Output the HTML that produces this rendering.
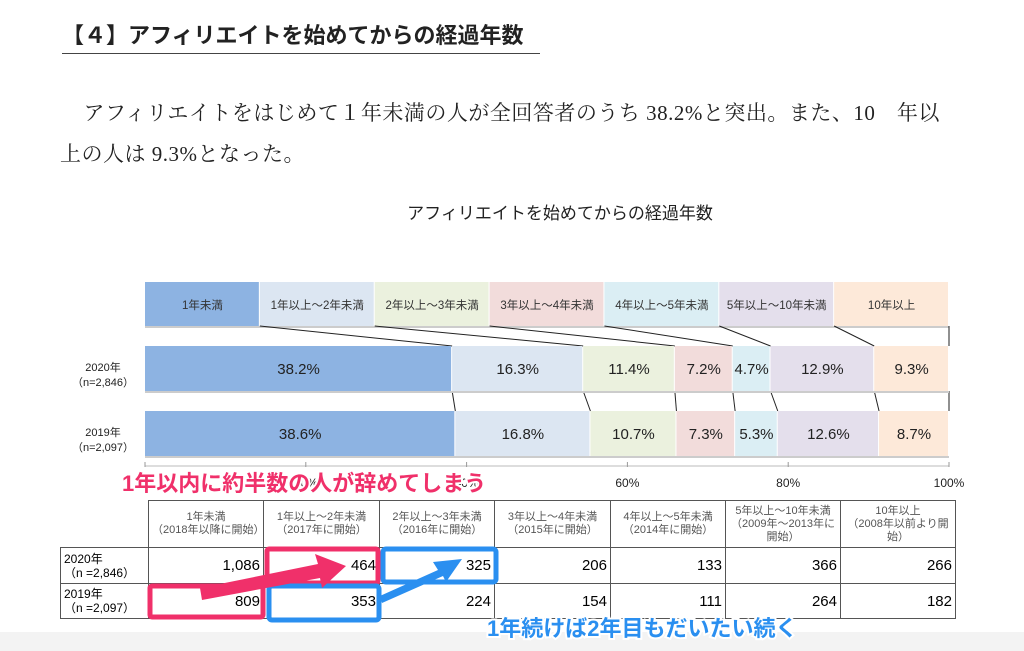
<!DOCTYPE html>
<html><head><meta charset="utf-8">
<style>
body{margin:0;width:1024px;height:651px;overflow:hidden;background:#fff;position:relative;font-family:"Liberation Sans","Noto Sans CJK JP",sans-serif;}
.abs{position:absolute;}
#h1{left:62px;top:18px;font-size:22px;font-weight:bold;color:#222;border-bottom:1.5px solid #444;padding-bottom:3px;width:478px;font-family:"Liberation Serif","Noto Sans CJK JP",sans-serif;}
.para{left:62px;font-size:21px;color:#222;font-family:"Liberation Serif","Noto Serif CJK SC",serif;letter-spacing:0.5px;white-space:nowrap;}
#ctitle{left:0;width:1120px;text-align:center;top:199px;font-size:17px;color:#222;}
table{border-collapse:collapse;position:absolute;left:60px;top:500px;font-size:12px;table-layout:fixed;width:895px;}
td{border:1px solid #555;padding:0 3px;overflow:hidden;}
.note{font-weight:bold;font-size:22px;white-space:nowrap;letter-spacing:0px;}
</style></head><body>
<div id="h1" class="abs">【４】アフィリエイトを始めてからの経過年数</div>
<div class="abs para" style="top:97px;">　アフィリエイトをはじめて１年未満の人が全回答者のうち 38.2%と突出。また、10　年以</div>
<div class="abs para" style="top:138px;left:60px">上の人は 9.3%となった。</div>
<div id="ctitle" class="abs">アフィリエイトを始めてからの経過年数</div>
<svg class="abs" style="left:0;top:0" width="1024" height="500" id="chart"></svg>
<table>
<colgroup><col style="width:88px"><col style="width:115px"><col style="width:116px"><col style="width:115px"><col style="width:116px"><col style="width:115px"><col style="width:115px"><col style="width:115px"></colgroup>
<tr style="height:47px;color:#555;font-size:11px;text-align:center;line-height:13px">
<td style="border-top:none;border-left:none"></td>
<td>1年未満<br>（2018年以降に開始）</td>
<td>1年以上～2年未満<br>（2017年に開始）</td>
<td>2年以上～3年未満<br>（2016年に開始）</td>
<td>3年以上～4年未満<br>（2015年に開始）</td>
<td>4年以上～5年未満<br>（2014年に開始）</td>
<td>5年以上～10年未満<br>（2009年～2013年に<br>開始）</td>
<td>10年以上<br>（2008年以前より開<br>始）</td></tr>
<tr style="height:36px;font-size:15px;text-align:right"><td style="text-align:left;font-size:12px;line-height:14px">2020年<br>（n =2,846）</td><td>1,086</td><td>464</td><td>325</td><td>206</td><td>133</td><td>366</td><td>266</td></tr>
<tr style="height:35px;font-size:15px;text-align:right"><td style="text-align:left;font-size:12px;line-height:14px">2019年<br>（n =2,097）</td><td>809</td><td>353</td><td>224</td><td>154</td><td>111</td><td>264</td><td>182</td></tr>
</table>
<div class="abs" style="left:0;top:632px;width:1024px;height:19px;background:#f3f3f3"></div>
<svg class="abs" style="left:0;top:0" width="1024" height="651">
<rect x="150" y="586" width="113" height="31" fill="none" stroke="#f0306a" stroke-width="5" rx="2"/>
<rect x="267" y="549" width="111" height="34" fill="none" stroke="#f0306a" stroke-width="5" rx="2"/>
<rect x="383" y="549" width="113" height="33" fill="none" stroke="#2a8ff0" stroke-width="5" rx="3"/>
<rect x="269" y="586" width="110" height="34" fill="none" stroke="#2a8ff0" stroke-width="5" rx="3"/>
<polygon points="200,588 318,564 315,554 346,566 322,588 320,578 202,600" fill="#f0306a"/>
<polygon points="380,596 438,570 433,562 462,559 446,582 443,576 382,603" fill="#2a8ff0"/>
<text x="122" y="491" class="note" fill="#f0306a" stroke="#fff" stroke-width="4" paint-order="stroke" font-family="Liberation Sans, Noto Sans CJK JP, sans-serif" font-weight="bold" font-size="22">1年以内に約半数の人が辞めてしまう</text>
<text x="487" y="636" class="note" fill="#2a8ff0" stroke="#fff" stroke-width="4" paint-order="stroke" font-family="Liberation Sans, Noto Sans CJK JP, sans-serif" font-weight="bold" font-size="22">1年続けば2年目もだいたい続く</text>
</svg>
<script>
const categories=["1年未満","1年以上～2年未満","2年以上～3年未満","3年以上～4年未満","4年以上～5年未満","5年以上～10年未満","10年以上"];
const years=["2020年","2019年"];
const yearN=["（n=2,846）","（n=2,097）"];
const values2020=[38.2,16.3,11.4,7.2,4.7,12.9,9.3];
const values2019=[38.6,16.8,10.7,7.3,5.3,12.6,8.7];
const tickValues=[0,20,40,60,80,100];
const tickLabels=["0%","20%","40%","60%","80%","100%"];
const colors=["#8db3e2","#dce6f2","#ebf1de","#f2dcdb","#dbeef4","#e4dfec","#fde9d9"];
const NS="http://www.w3.org/2000/svg";
const svg=document.getElementById('chart');
const X0=145,X1=949;
const xs=v=>X0+(X1-X0)*v/100;
function el(t,a){const e=document.createElementNS(NS,t);for(const k in a)e.setAttribute(k,a[k]);svg.appendChild(e);return e;}
const LY=282,LH=44,lw=(X1-X0)/categories.length;
categories.forEach((c,i)=>{
 const r=el('rect',{x:X0+i*lw,y:LY,width:lw-1,height:LH,fill:colors[i]});
 
 
 const t=el('text',{x:X0+i*lw+lw/2,y:LY+27,'text-anchor':'middle','font-size':11.5,fill:'#333'});
 t.textContent=c;
 
 
});
el('line',{x1:X0,x2:X1,y1:LY+LH+1,y2:LY+LH+1,stroke:'#ccc','stroke-width':2});
const series=[values2020,values2019];
const barY=[346,411],BH=45;
const cum=s=>{let a=[0];s.forEach(v=>a.push(a[a.length-1]+v));return a;};
const c0=cum(values2020),c1=cum(values2019);
for(let i=1;i<=categories.length;i++){
 const lx=X0+i*lw;
 const l1=el('line',{x1:i==categories.length?X1:lx,y1:LY+LH,x2:xs(Math.min(c0[i],100)),y2:barY[0],stroke:'#222','stroke-width':1});
 
 
 const l2=el('line',{x1:xs(Math.min(c0[i],100)),y1:barY[0]+BH,x2:xs(Math.min(c1[i],100)),y2:barY[1],stroke:'#222','stroke-width':1});
 
 
}
series.forEach((s,si)=>{
 const y=barY[si];let acc=0;
 el('line',{x1:X0,x2:X1,y1:y+BH+1,y2:y+BH+1,stroke:'#ccc','stroke-width':2});
 s.forEach((v,i)=>{
  const x=xs(acc),w=xs(Math.min(acc+v,100))-x;
  const r=el('rect',{x:x,y:y,width:Math.max(w-1,0),height:BH,fill:colors[i]});
  
  
  const t=el('text',{x:x+w/2,y:y+28,'text-anchor':'middle','font-size':15,fill:'#222'});
  t.textContent=v.toFixed(1)+'%';
  
  
  acc+=v;
 });
 const a=el('text',{x:103,y:y+25,'text-anchor':'middle','font-size':11,fill:'#222'});
 a.textContent=years[si];
 
 
 const b=el('text',{x:103,y:y+40,'text-anchor':'middle','font-size':11,fill:'#222'});
 b.textContent=yearN[si];
 
 
});
el('line',{x1:X0,x2:X1,y1:466,y2:466,stroke:'#bbb','stroke-width':1});
tickValues.forEach((v,i)=>{
 el('line',{x1:xs(v),x2:xs(v),y1:462,y2:467,stroke:'#999'});
 const t=el('text',{x:xs(v),y:487,'text-anchor':'middle','font-size':12,fill:'#222'});
 t.textContent=tickLabels[i];
 
 
});
</script>
</body></html>
